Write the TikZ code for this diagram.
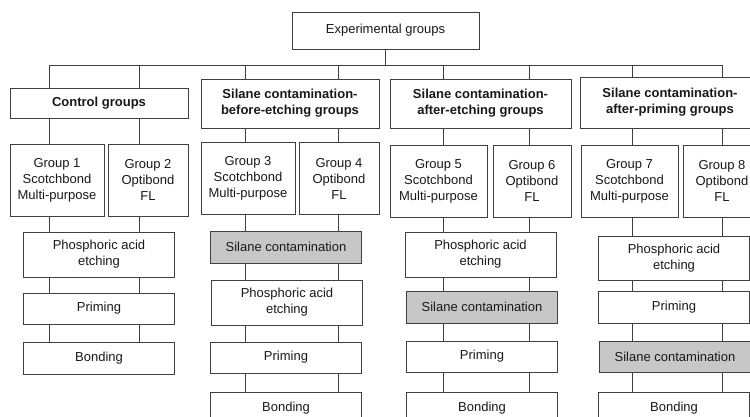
\documentclass[tikz,border=0pt]{standalone}
\usepackage{fontspec}
\setmainfont{Liberation Sans}
\usetikzlibrary{backgrounds}

\begin{document}
\begin{tikzpicture}[x=1pt, y=-1pt,
        box/.style={draw=black!75, line width=0.9pt, fill=white, align=center, inner sep=0pt,
            text=black!90, font=\fontsize{13}{16}\selectfont},
        hdr/.style={box, font=\fontsize{13}{16}\selectfont\bfseries},
        grp/.style={box, minimum height=72pt},
        stepbox/.style={box, minimum width=151pt},
        silane/.style={stepbox, fill=black!22},
        link/.style={draw=black!75, line width=0.9pt}]

            \useasboundingbox (0,0) rectangle (750,417);

            \node[box, minimum width=187pt, minimum height=37pt] (top) at (385.5,30.5) {Experimental groups};

            % the four main branches
            \node[hdr, minimum width=178pt, minimum height=30pt] (ctrl) at (99,103) {Control groups};
            \node[hdr, minimum width=178pt, minimum height=49pt] (before) at (290,103.5) {Silane contamination-\\before-etching groups};
            \node[hdr, minimum width=181pt, minimum height=49pt] (afteretch) at (480.5,103.5) {Silane contamination-\\after-etching groups};
            \node[hdr, minimum width=180pt, minimum height=51pt] (afterprime) at (670,102.5) {Silane contamination-\\after-priming groups};

            \node[grp, minimum width=94pt] (g1) at (57,180) {Group 1\\Scotchbond\\Multi-purpose};
            \node[grp, minimum width=80pt] (g2) at (148,180) {Group 2\\Optibond\\FL};
            \node[grp, minimum width=94pt] (g3) at (248,178.5) {Group 3\\Scotchbond\\Multi-purpose};
            \node[grp, minimum width=80pt] (g4) at (339,178.5) {Group 4\\Optibond\\FL};
            \node[grp, minimum width=97pt] (g5) at (438.5,181) {Group 5\\Scotchbond\\Multi-purpose};
            \node[grp, minimum width=78pt] (g6) at (532,181) {Group 6\\Optibond\\FL};
            \node[grp, minimum width=97pt] (g7) at (629.5,181) {Group 7\\Scotchbond\\Multi-purpose};
            \node[grp, minimum width=78pt] (g8) at (722,181) {Group 8\\Optibond\\FL};

            % control
            \node[stepbox, minimum height=45pt] (e1) at (99,254.5) {Phosphoric acid\\etching};
            \node[stepbox, minimum height=31pt] (p1) at (99,308.5) {Priming};
            \node[stepbox, minimum height=32pt] (b1) at (99,358) {Bonding};

            % before etching
            \node[silane, minimum height=32pt] (s2) at (286,247) {Silane contamination};
            \node[stepbox, minimum height=45pt] (e2) at (287,302.5) {Phosphoric acid\\etching};
            \node[stepbox, minimum height=31pt] (p2) at (286,357.5) {Priming};
            \node[stepbox, minimum height=32pt] (b2) at (286,408) {Bonding};

            % after etching
            \node[stepbox, minimum height=45pt] (e3) at (480.5,254.5) {Phosphoric acid\\etching};
            \node[silane, minimum height=32pt] (s3) at (482,307) {Silane contamination};
            \node[stepbox, minimum height=31pt] (p3) at (482,356.5) {Priming};
            \node[stepbox, minimum height=32pt] (b3) at (482,408) {Bonding};

            % after priming
            \node[stepbox, minimum height=44pt] (e4) at (674,258) {Phosphoric acid\\etching};
            \node[stepbox, minimum height=32pt] (p4) at (674,307) {Priming};
            \node[silane, minimum height=31pt] (s4) at (675,356.5) {Silane contamination};
            \node[stepbox, minimum height=32pt] (b4) at (674,408) {Bonding};

            \coordinate (t1) at (49,65);
            \coordinate (t2) at (139,65);
            \coordinate (t3) at (245,65);
            \coordinate (t4) at (338,65);
            \coordinate (t5) at (443,65);
            \coordinate (t6) at (529,65);
            \coordinate (t7) at (632,65);
            \coordinate (t8) at (722,65);

            \begin{scope}[on background layer]
                \draw[link] (top.south) -- (top.south |- t1);
                \draw[link] (t1) -- (t8);
                \foreach \t/\b in {t1/b1, t2/b1, t3/b2, t4/b2, t5/b3, t6/b3, t7/b4, t8/b4}
                    \draw[link] (\t) -- (\b.north -| \t);
            \end{scope}

\end{tikzpicture}
\end{document}
